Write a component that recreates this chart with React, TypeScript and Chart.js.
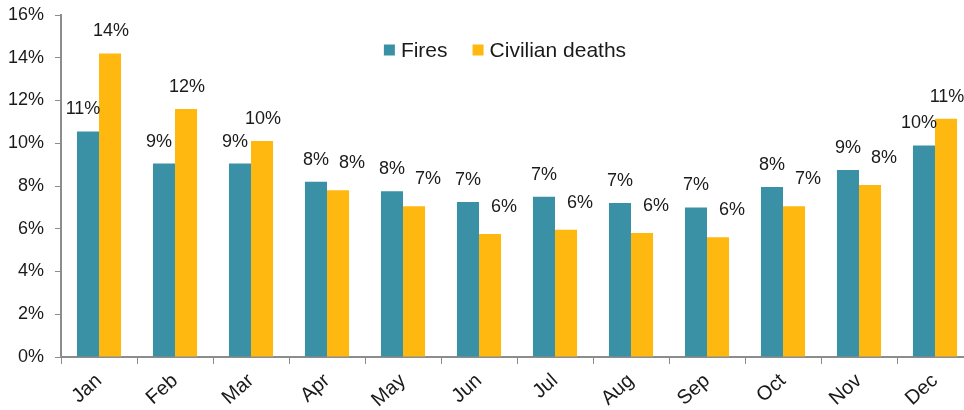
import React, { useEffect, useRef } from "react";
import { Chart, registerables } from "chart.js";

Chart.register(...registerables);

const months = ["Jan", "Feb", "Mar", "Apr", "May", "Jun", "Jul", "Aug", "Sep", "Oct", "Nov", "Dec"];
const fires = [10.55, 9.05, 9.05, 8.2, 7.75, 7.25, 7.5, 7.2, 7.0, 7.95, 8.75, 9.9];
const deaths = [14.2, 11.6, 10.1, 7.8, 7.05, 5.75, 5.95, 5.8, 5.6, 7.05, 8.05, 11.15];
const firesLabels = ["11%", "9%", "9%", "8%", "8%", "7%", "7%", "7%", "7%", "8%", "9%", "10%"];
const deathsLabels = ["14%", "12%", "10%", "8%", "7%", "6%", "6%", "6%", "6%", "7%", "8%", "11%"];
const yTicks = [0, 2, 4, 6, 8, 10, 12, 14, 16];

const FONT = "'Liberation Sans', Arial, sans-serif";
const FIRE_COLOR = "#3A91A6";
const DEATH_COLOR = "#FFB80F";
const TEXT_COLOR = "#1a1a1a";

const valueLabels = {
  id: "valueLabels",
  afterDatasetsDraw(chart: any) {
    const ctx = chart.ctx;
    ctx.save();
    ctx.font = `18px ${FONT}`;
    ctx.fillStyle = TEXT_COLOR;
    ctx.textAlign = "center";
    ctx.textBaseline = "middle";
    const m0 = chart.getDatasetMeta(0);
    const m1 = chart.getDatasetMeta(1);
    months.forEach((_, i) => {
      const b0 = m0.data[i];
      const b1 = m1.data[i];
      const deathsLower = deaths[i] < fires[i];
      ctx.fillText(firesLabels[i], b0.x - (deathsLower ? 0 : 5), b0.y - 22);
      ctx.fillText(deathsLabels[i], b1.x + (deathsLower ? 14 : 1), b1.y - (deathsLower ? 27 : 22));
    });
    ctx.restore();
  },
};

const customLegend = {
  id: "customLegend",
  afterDraw(chart: any) {
    const ctx = chart.ctx;
    const ds = chart.data.datasets;
    ctx.save();
    ctx.font = `21px ${FONT}`;
    ctx.textBaseline = "middle";
    ctx.textAlign = "left";
    const box = 11;
    const gapBoxText = 6;
    const gapItems = 25;
    const widths = ds.map((d: any) => ctx.measureText(d.label).width);
    const total = widths.reduce((a: number, w: number) => a + box + gapBoxText + w, 0) + gapItems * (ds.length - 1);
    const ca = chart.chartArea;
    let x = (ca.left + ca.right) / 2 - 12 - total / 2;
    const cy = ca.top + 35;
    ds.forEach((d: any, i: number) => {
      ctx.fillStyle = d.backgroundColor;
      ctx.fillRect(x, cy - box / 2, box, box);
      x += box + gapBoxText;
      ctx.fillStyle = TEXT_COLOR;
      ctx.fillText(d.label, x, cy + 1);
      x += widths[i] + gapItems;
    });
    ctx.restore();
  },
};

export default function App() {
  const ref = useRef<HTMLCanvasElement | null>(null);
  useEffect(() => {
    if (!ref.current) return;
    const chart = new Chart(ref.current, {
      type: "bar",
      data: {
        labels: months,
        datasets: [
          { label: "Fires", data: fires, backgroundColor: FIRE_COLOR, barPercentage: 1, categoryPercentage: 0.58 },
          { label: "Civilian deaths", data: deaths, backgroundColor: DEATH_COLOR, barPercentage: 1, categoryPercentage: 0.58 },
        ],
      },
      options: {
        animation: false,
        responsive: true,
        maintainAspectRatio: false,
        layout: { padding: { top: 15, right: 2, left: 0, bottom: 0 } },
        plugins: {
          tooltip: { enabled: false },
          legend: { display: false },
        },
        scales: {
          x: {
            grid: { drawOnChartArea: false, drawTicks: true, tickLength: 7, color: "#8c8c8c", offset: true },
            border: { display: true, color: "#8c8c8c", width: 2 },
            ticks: {
              font: { family: FONT, size: 20 },
              color: TEXT_COLOR,
              minRotation: 42,
              maxRotation: 42,
              padding: 5,
            },
            afterFit(scale: any) {
              scale.height = 53;
              scale.paddingLeft = 0;
              scale.paddingRight = 0;
            },
          },
          y: {
            min: 0,
            max: 16,
            afterBuildTicks(scale: any) {
              scale.ticks = yTicks.map((v) => ({ value: v }));
            },
            grid: { drawOnChartArea: false, drawTicks: true, tickLength: 6, color: "#8c8c8c" },
            border: { display: true, color: "#8c8c8c", width: 2 },
            ticks: {
              font: { family: FONT, size: 18 },
              color: TEXT_COLOR,
              padding: 11,
              callback: (v: any) => `${v}%`,
            },
            afterFit(scale: any) {
              scale.width = 61;
              scale.paddingTop = 0;
              scale.paddingBottom = 0;
            },
          },
        },
      },
      plugins: [valueLabels, customLegend],
    });
    return () => chart.destroy();
  }, []);

  return (
    <div style={{ position: "fixed", left: 0, top: 0, width: 964, height: 410, overflow: "hidden", background: "#fff" }}>
      <div style={{ position: "relative", width: 975, height: 410 }}>
        <canvas ref={ref} />
      </div>
    </div>
  );
}
